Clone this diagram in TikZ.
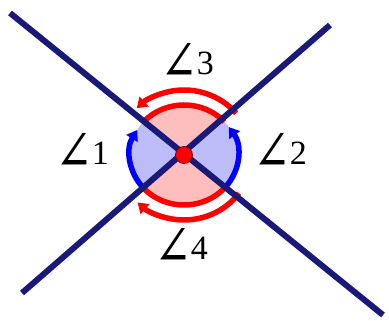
\documentclass[tikz,border=0pt]{standalone}
\usepackage{fontspec}
\usepackage{graphicx}
\setmainfont{Liberation Serif}
\newfontfamily\symfont[Scale=1.65]{DejaVu Serif}
\newcommand{\angsym}{\raisebox{-6pt}{\scalebox{0.8}[1]{\symfont ∠}}\kern-1pt}
\usetikzlibrary{arrows.meta}
\definecolor{navyline}{RGB}{25,25,120}
\definecolor{pinkfill}{RGB}{255,190,190}
\definecolor{bluefill}{RGB}{188,188,248}
\definecolor{redarc}{RGB}{255,0,0}
\definecolor{bluearc}{RGB}{0,0,255}
\tikzset{
  xline/.style={draw=navyline, line width=6pt},
  bluestroke/.style={draw=bluearc, line width=5.5pt},
  redstroke/.style={draw=redarc, line width=5.5pt},
  bluetip/.style={-{Triangle[length=10pt,width=13pt]}},
  redtip/.style={-{Triangle[length=10pt,width=13pt]}},
  lbl/.style={font=\fontsize{34}{38}\selectfont, inner sep=0pt, anchor=base}
}
\begin{document}
\begin{tikzpicture}[x=1pt,y=1pt]
\useasboundingbox (0,0) rectangle (389,321);
\begin{scope}[shift={(184,166)}]
  % filled sectors
  \fill[pinkfill] (0,0) ellipse[x radius=54, y radius=50];
  \fill[bluefill] (0,0) -- (140.8:54 and 50) arc[start angle=140.8, end angle=220.4, x radius=54, y radius=50] -- cycle;
  \fill[bluefill] (0,0) -- (-38.8:54 and 50) arc[start angle=-38.8, end angle=41.7, x radius=54, y radius=50] -- cycle;
  % inner red arcs
  \draw[redstroke] (41.7:54 and 50) arc[start angle=41.7, end angle=140.8, x radius=54, y radius=50];
  \draw[redstroke] (220.4:54 and 50) arc[start angle=220.4, end angle=321.2, x radius=54, y radius=50];
  % blue arcs with arrows
  \draw[bluestroke, bluetip] (222:54 and 50) arc[start angle=222, end angle=150, x radius=54, y radius=50];
  \draw[bluestroke, bluetip] (-40:54 and 50) arc[start angle=-40, end angle=34, x radius=54, y radius=50];
  % outer red arcs with arrows
  \draw[redstroke, redtip] (40:68 and 65) arc[start angle=40, end angle=134, x radius=68, y radius=65];
  \draw[redstroke, redtip] (-36:68 and 65) arc[start angle=-36, end angle=-133, x radius=68, y radius=65];
\end{scope}
% lines
\draw[xline] (10,308) -- (383,6);
\draw[xline] (330,296) -- (22,28);
% centre dot
\filldraw[fill=redarc, draw=red!50!black, line width=0.8pt] (184,166) circle[radius=8.5];
% labels
\node[lbl] (a3) at (187,246) {\angsym 3};
\node[lbl] (a1) at (82,156) {\angsym 1};
\node[lbl] (a2) at (280,156) {\angsym 2};
\node[lbl] (a4) at (181,61) {\angsym 4};
\end{tikzpicture}
\end{document}
